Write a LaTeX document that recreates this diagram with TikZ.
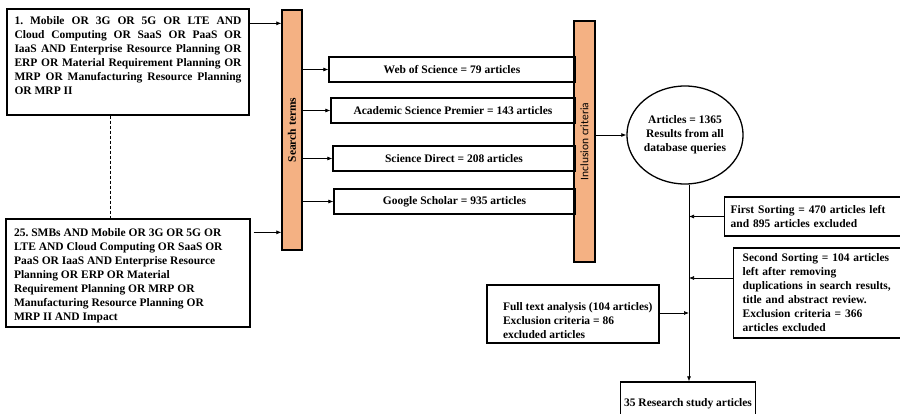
\documentclass[tikz,border=0pt]{standalone}
\usepackage{fontspec}
\setmainfont{Liberation Serif}
\newfontfamily\barfont{Carlito}
\usetikzlibrary{shapes.geometric,arrows.meta}
\definecolor{peach}{HTML}{F4B183}
\frenchspacing
\begin{document}
\begin{tikzpicture}[x=1pt,y=-1pt,
  every node/.style={font=\fontsize{11.5}{14}\selectfont\bfseries},
  box/.style={draw,line width=1.3pt,rectangle,inner sep=0pt},
  bar/.style={draw,line width=1.3pt,fill=peach,inner sep=0pt,minimum width=20pt},
  dbbox/.style={box,minimum height=25pt},
  link/.style={line width=0.7pt,-{Latex[length=5pt,width=4pt]}},
]
\useasboundingbox (0,0) rectangle (900,414);
\clip (0,0) rectangle (900,414);

% search queries
\node[box,minimum width=242pt,minimum height=106pt] (q1) at (128,62)
  {\parbox[c][90pt][t]{227pt}{1. Mobile OR 3G OR 5G OR LTE AND\linebreak
   Cloud Computing OR SaaS OR PaaS OR\linebreak
   IaaS AND Enterprise Resource Planning OR\linebreak
   ERP OR Material Requirement Planning OR\linebreak
   MRP OR Manufacturing Resource Planning\linebreak
   OR MRP II}};
\node[box,minimum width=244pt,minimum height=108pt] (q25) at (128,273)
  {\parbox[c][100pt][c]{228pt}{\vspace{6pt}\raggedright 25. SMBs AND Mobile OR 3G OR 5G OR\\
   LTE AND Cloud Computing OR SaaS OR\\
   PaaS OR IaaS AND Enterprise Resource\\
   Planning OR ERP OR Material\\
   Requirement Planning OR MRP OR\\
   Manufacturing Resource Planning OR\\
   MRP II AND Impact}};
\coordinate (dtop) at ([xshift=-18pt]q1.south);
\draw[line width=0.6pt,dash pattern=on 3pt off 2pt] (dtop) -- (dtop |- q25.north);

% vertical bars
\node[bar,minimum height=240pt] (sb) at (292,130)
  {\rotatebox{90}{Search terms}};
\node[bar,minimum width=21pt,minimum height=241pt] (inc) at (584.5,141.5)
  {\rotatebox{90}{\barfont\mdseries Inclusion criteria}};

\coordinate (q1out) at ([yshift=-15pt]q1.north east);
\coordinate (q25out) at ([yshift=-14pt,xshift=3pt]q25.north east);
\draw[link] (q1out) -- (q1out -| sb.west);
\draw[link] (q25out) -- (q25out -| sb.west);

% databases
\node[dbbox,minimum width=246pt] (web) at (452,69.5) {Web of Science = 79 articles};
\node[dbbox,minimum width=244pt] (asp) at (453,110.5) {Academic Science Premier = 143 articles};
\node[dbbox,minimum width=242pt] (sd) at (454,158.5) {Science Direct = 208 articles};
\node[dbbox,minimum width=241pt] (gs) at (454.5,201.5) {Google Scholar = 935 articles};
\foreach \d in {web,asp,sd,gs}
  \draw[link] (sb.east |- \d.west) -- (\d.west);

% results
\node[draw,line width=1.3pt,ellipse,minimum width=111pt,minimum height=98pt,
  inner sep=0pt,align=center] (ell) at (685,135)
  {Articles = 1365\\Results from all\\database queries};
\draw[link] (inc.east |- ell.west) -- (ell.west);

\node[box,minimum width=135pt,minimum height=44pt] (res) at (688,404)
  {35 Research study articles};
\coordinate (trunk) at ([xshift=4pt]ell.south);
\draw[link] (trunk) -- (trunk |- res.north);

% sorting steps
\node[box,anchor=west,minimum width=230pt,minimum height=39pt,
  text width=218pt,align=left] (fs) at (724,216.5)
  {First Sorting = 470 articles left\\and 895 articles excluded};
\node[box,anchor=west,minimum width=230pt,minimum height=90pt,
  text width=212pt,align=left,xshift=9pt] (ss) at (724,293)
  {Second Sorting = 104 articles\\left after removing\\duplications in search results,\\title and abstract review.\\Exclusion criteria = 366\\articles excluded};
\node[box,minimum width=172pt,minimum height=58pt] (ft) at (573,314)
  {\makebox[172pt][l]{\hspace{16pt}\parbox[c][50pt][b]{152pt}{Full text analysis (104 articles)\\Exclusion criteria = 86\\excluded articles}}};

\draw[link] (fs.west) -- (fs.west -| trunk);
\coordinate (ssout) at ([yshift=15pt]ss.west);
\draw[link] (ssout) -- (ssout -| trunk);
\draw[link] ([yshift=1pt]ft.east) -- ([yshift=1pt]ft.east -| trunk);
\end{tikzpicture}
\end{document}
